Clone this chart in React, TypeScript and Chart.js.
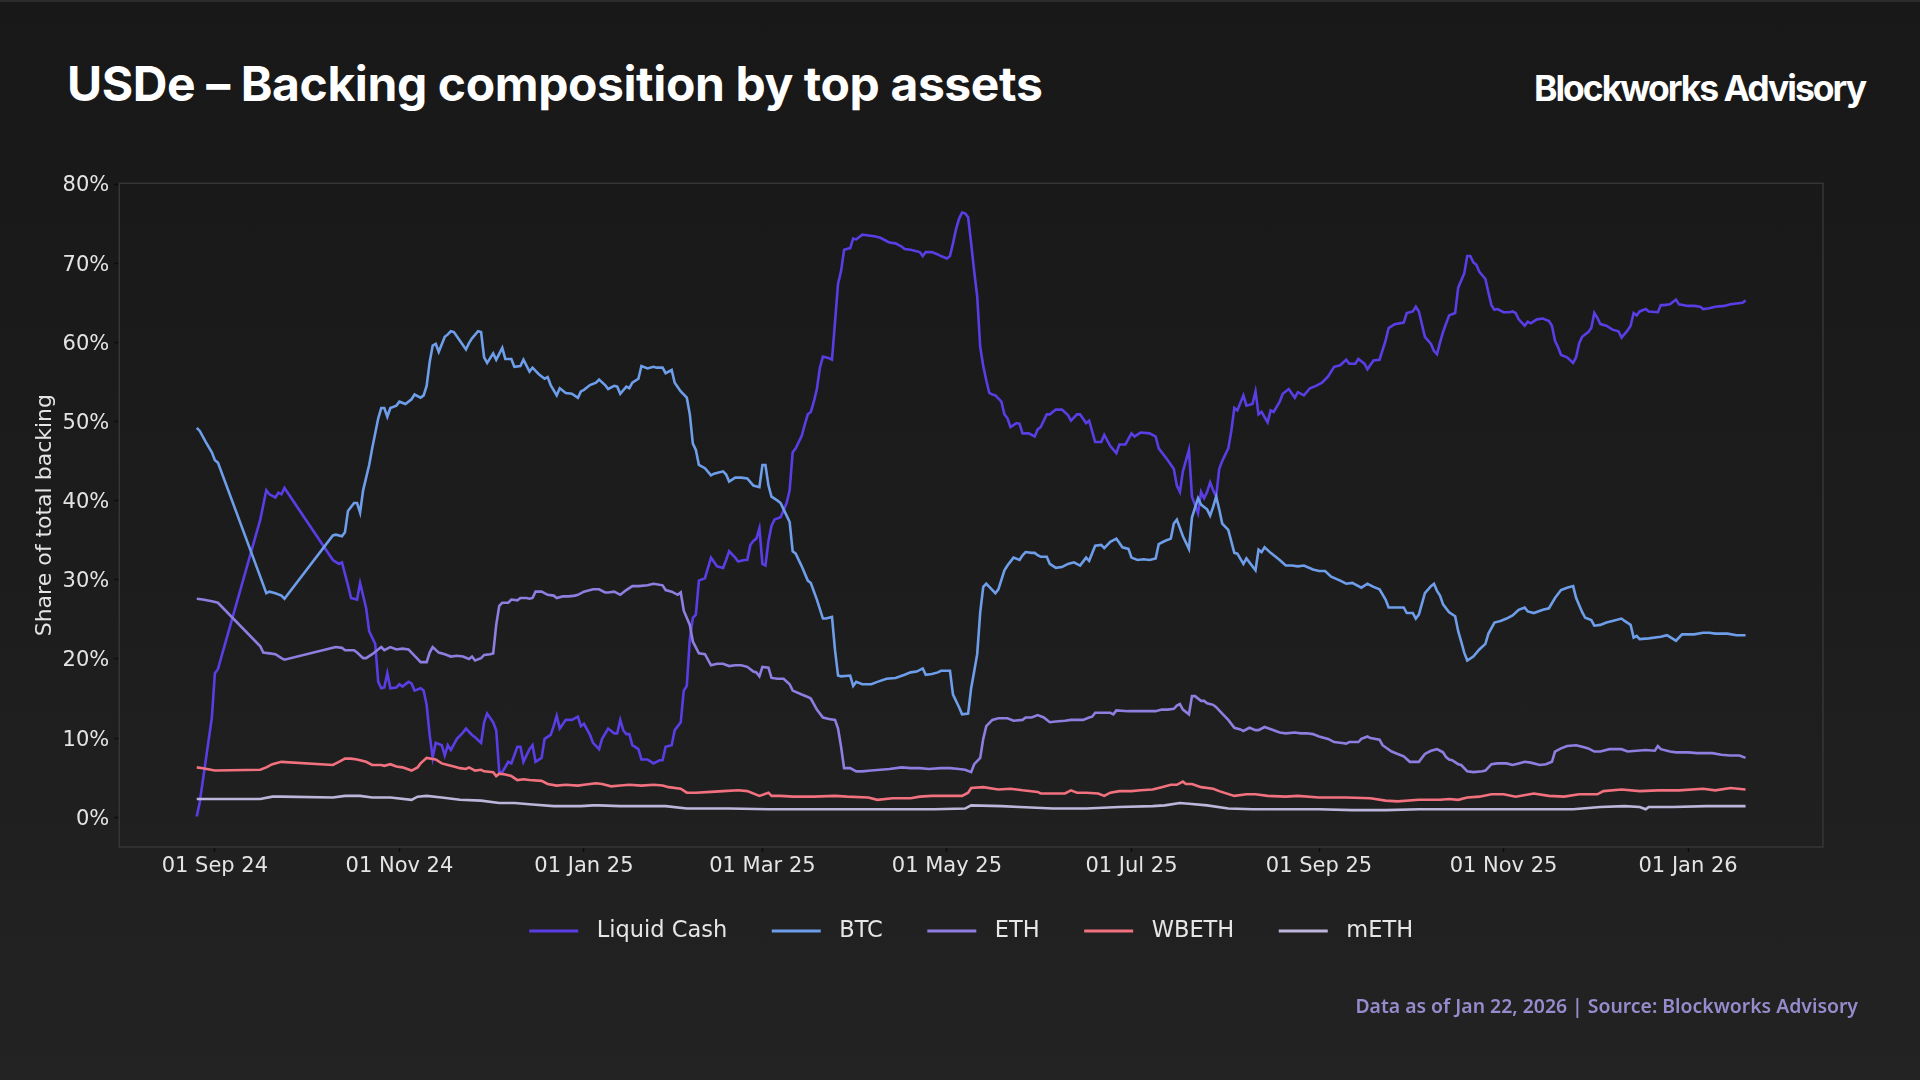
import React, { useEffect, useRef } from 'react';
import { Chart, registerables } from 'chart.js';

Chart.register(...registerables);

// x values are days since 2024-09-01; y values are % of total backing
const liquidCash: [number, number][] = [[-6,0.1],[-5,1.9],[-1,12.6],[0,18.2],[1,18.7],[15,37.6],[17,41.3],[18,40.8],[20,40.4],[21,41.0],[22,40.8],[23,41.6],[39,32.5],[41,32.0],[42,32.2],[44,29.3],[45,27.7],[47,27.5],[48,29.6],[50,26.4],[51,23.5],[53,21.9],[54,17.1],[55,16.3],[56,16.4],[57,18.2],[58,16.3],[60,16.4],[61,16.8],[62,16.5],[64,17.1],[65,16.9],[66,16.0],[68,16.3],[69,16.0],[70,14.2],[71,10.4],[72,7.5],[73,9.4],[75,9.1],[76,7.8],[77,9.1],[78,8.5],[80,9.9],[82,10.7],[83,11.2],[85,10.4],[86,10.1],[88,9.4],[89,12.0],[90,13.1],[92,12.0],[93,11.0],[94,5.7],[95,5.7],[97,7.0],[98,6.8],[100,8.9],[101,8.9],[102,7.0],[104,8.6],[105,9.1],[106,7.0],[108,7.5],[109,9.9],[111,10.4],[112,11.5],[113,12.8],[114,11.2],[116,12.3],[118,12.3],[120,12.7],[121,11.5],[122,11.8],[124,10.4],[125,9.4],[127,8.6],[128,9.9],[130,11.2],[132,10.6],[133,10.6],[134,12.3],[135,11.0],[136,10.5],[137,10.5],[138,9.1],[140,8.6],[141,7.3],[143,7.3],[145,6.8],[147,7.2],[148,7.2],[149,8.9],[151,9.1],[152,11.0],[154,12.0],[155,16.0],[156,16.6],[157,22.5],[158,25.2],[159,25.6],[160,29.9],[162,30.2],[163,31.5],[164,32.8],[166,31.7],[168,31.5],[169,32.5],[170,33.6],[172,32.8],[173,32.3],[175,32.5],[176,32.5],[177,34.4],[178,34.9],[179,35.2],[180,36.5],[181,32.0],[182,31.8],[183,34.9],[184,36.8],[185,37.6],[187,37.9],[189,39.7],[190,41.3],[191,46.1],[192,46.6],[194,48.2],[195,49.6],[196,50.9],[197,51.2],[198,52.5],[199,54.1],[200,56.8],[201,58.2],[203,58.0],[204,57.8],[205,62.6],[206,67.4],[207,69.0],[208,71.7],[210,71.9],[211,73.1],[212,73.0],[214,73.6],[216,73.5],[218,73.4],[220,73.2],[222,72.8],[223,72.6],[225,72.5],[227,72.1],[228,71.8],[230,71.7],[233,71.4],[234,70.9],[235,71.4],[237,71.4],[239,71.1],[240,70.9],[242,70.6],[243,70.9],[244,72.5],[245,74.3],[246,75.6],[247,76.4],[248,76.3],[249,75.8],[250,72.5],[251,69.0],[252,65.8],[253,59.4],[254,57.0],[255,55.2],[256,53.6],[257,53.4],[258,53.3],[260,52.5],[261,50.9],[262,50.4],[263,49.3],[265,49.8],[266,49.7],[267,48.5],[269,48.5],[271,48.1],[272,49.0],[273,49.3],[275,50.9],[276,50.9],[278,51.5],[280,51.5],[282,50.8],[283,50.1],[285,50.9],[286,50.9],[288,49.8],[289,50.1],[291,47.4],[293,47.4],[294,48.3],[296,46.9],[298,46.0],[299,47.1],[301,47.1],[303,48.5],[304,48.1],[306,48.6],[309,48.5],[311,48.1],[312,46.6],[314,45.6],[315,45.1],[317,44.0],[318,41.9],[319,41.1],[320,43.7],[322,46.4],[323,40.5],[325,38.4],[326,41.1],[327,40.3],[328,41.1],[329,42.3],[330,41.3],[331,40.5],[332,44.0],[333,45.0],[335,46.6],[336,48.8],[337,51.7],[338,51.4],[340,53.3],[341,52.0],[343,52.2],[344,53.8],[345,50.9],[346,51.2],[348,49.9],[349,51.4],[350,51.2],[352,52.5],[353,53.5],[355,54.1],[357,53.0],[358,53.7],[360,53.3],[362,54.2],[364,54.5],[366,54.9],[368,55.7],[370,56.9],[372,57.1],[374,57.8],[375,57.3],[377,57.3],[378,57.9],[380,57.3],[381,56.6],[383,57.7],[385,57.8],[387,60.2],[388,61.8],[390,62.3],[393,62.5],[394,63.7],[396,63.9],[397,64.5],[398,63.9],[400,60.7],[402,59.8],[403,58.9],[404,58.5],[405,60.0],[406,61.3],[408,63.4],[410,63.7],[411,66.9],[413,68.7],[414,70.9],[415,70.9],[416,70.1],[417,69.8],[418,68.9],[420,68.0],[421,66.3],[422,64.7],[423,64.1],[424,64.2],[426,63.8],[428,63.8],[429,63.9],[430,63.7],[431,62.9],[433,62.1],[434,62.6],[435,62.4],[437,62.9],[439,63.0],[441,62.7],[442,62.1],[443,60.2],[444,59.4],[445,58.4],[447,58.1],[449,57.4],[450,58.1],[451,59.9],[452,60.7],[454,61.3],[455,61.8],[456,63.7],[457,63.1],[458,62.3],[460,62.1],[462,61.6],[464,61.4],[465,60.6],[467,61.5],[468,62.1],[469,63.7],[470,63.4],[471,63.9],[473,64.2],[474,63.9],[477,63.8],[478,64.7],[479,64.7],[481,64.8],[483,65.4],[484,64.8],[487,64.6],[489,64.6],[491,64.5],[492,64.2],[494,64.3],[496,64.5],[499,64.6],[501,64.8],[503,64.9],[505,65.0],[506,65.3]];

const btc: [number, number][] = [[-6,49.2],[-5,48.8],[-3,47.4],[-1,46.1],[0,45.1],[1,44.8],[15,30.4],[17,28.3],[18,28.5],[20,28.3],[22,28.0],[23,27.6],[39,35.6],[40,35.7],[42,35.5],[43,36.0],[44,38.7],[46,39.7],[47,39.7],[48,38.5],[49,41.3],[51,44.5],[52,46.6],[54,50.4],[55,51.7],[56,51.7],[57,50.6],[58,51.7],[60,52.0],[61,52.5],[63,52.2],[65,52.8],[66,53.4],[68,53.0],[69,53.3],[70,54.5],[71,57.5],[72,59.6],[73,59.8],[74,58.8],[76,60.7],[77,61.0],[78,61.4],[79,61.3],[81,60.2],[83,59.1],[84,59.9],[85,60.5],[87,61.4],[88,61.3],[89,58.1],[90,57.4],[92,58.6],[93,57.8],[95,59.3],[96,57.9],[98,57.9],[99,56.9],[101,57.0],[102,57.8],[104,56.3],[105,56.8],[107,56.0],[109,55.4],[110,55.6],[111,54.6],[113,53.3],[114,54.2],[116,53.6],[118,53.5],[120,53.0],[121,53.8],[122,54.0],[124,54.6],[126,54.9],[127,55.3],[129,54.6],[130,54.1],[132,54.5],[133,54.4],[134,53.5],[136,54.4],[137,54.2],[138,54.9],[140,55.4],[141,57.0],[143,56.7],[145,56.9],[146,56.8],[148,56.8],[149,56.1],[151,56.5],[152,54.9],[154,53.8],[156,53.0],[157,50.9],[158,47.2],[159,46.4],[160,44.5],[162,44.1],[164,43.2],[165,43.4],[168,43.7],[169,43.3],[170,42.4],[172,42.9],[174,42.9],[176,42.8],[178,41.9],[180,41.7],[181,44.5],[182,44.5],[183,41.9],[184,40.5],[186,40.0],[187,39.7],[189,38.1],[190,37.3],[191,33.6],[192,33.3],[194,31.7],[196,29.9],[197,29.6],[199,27.5],[201,25.1],[202,25.1],[204,25.3],[205,21.1],[206,17.9],[207,17.8],[210,17.9],[211,16.6],[212,17.1],[214,16.8],[217,16.8],[219,17.1],[222,17.5],[225,17.6],[228,18.0],[230,18.3],[232,18.4],[234,18.8],[235,18.0],[237,18.1],[239,18.3],[240,18.5],[243,18.5],[244,15.5],[246,13.9],[247,13.0],[249,13.1],[250,16.3],[251,18.4],[252,20.6],[253,25.9],[254,29.1],[255,29.5],[256,29.1],[258,28.3],[259,28.8],[261,31.2],[262,31.8],[264,32.8],[266,32.5],[267,33.1],[268,33.5],[270,33.4],[271,33.4],[272,33.1],[273,32.9],[275,32.9],[276,32.0],[278,31.5],[280,31.6],[282,32.0],[284,32.2],[286,31.8],[288,32.8],[289,32.4],[291,34.3],[293,34.4],[294,34.0],[296,34.8],[298,35.2],[300,34.1],[302,33.9],[303,32.8],[305,32.5],[307,32.6],[309,32.5],[311,32.7],[312,34.5],[314,34.9],[316,35.2],[317,37.1],[318,37.6],[320,35.5],[322,33.9],[323,37.9],[325,40.3],[326,39.5],[327,39.2],[328,38.9],[329,38.1],[330,39.2],[331,40.5],[332,38.9],[333,37.1],[335,36.3],[337,33.4],[338,33.3],[340,32.0],[341,32.7],[342,32.2],[344,31.2],[345,33.8],[346,33.5],[347,34.1],[349,33.4],[352,32.5],[354,31.8],[356,31.8],[358,31.7],[360,31.8],[363,31.3],[365,31.1],[367,31.1],[369,30.4],[372,29.9],[374,29.5],[376,29.6],[379,29.0],[381,29.5],[383,29.1],[385,28.8],[387,27.5],[388,26.5],[390,26.5],[393,26.5],[394,25.8],[396,25.8],[397,25.1],[398,25.6],[400,28.3],[402,29.2],[403,29.5],[404,28.6],[405,28.0],[406,26.9],[408,25.9],[410,25.4],[411,23.5],[412,22.2],[413,20.8],[414,19.8],[416,20.3],[418,21.2],[420,21.9],[421,23.2],[423,24.6],[425,24.8],[427,25.1],[429,25.5],[431,26.2],[433,26.5],[434,26.0],[436,25.8],[439,26.2],[441,26.4],[443,27.7],[445,28.7],[447,29.0],[449,29.2],[450,27.7],[452,25.9],[453,25.2],[455,24.9],[456,24.2],[458,24.3],[460,24.6],[462,24.8],[465,25.1],[466,24.8],[468,24.3],[469,22.7],[470,22.9],[471,22.5],[474,22.6],[478,22.8],[480,23.0],[483,22.3],[485,23.1],[489,23.1],[492,23.3],[494,23.3],[496,23.2],[500,23.2],[503,23.0],[506,23.0]];

const eth: [number, number][] = [[-6,27.6],[-4,27.5],[-1,27.3],[1,27.1],[15,21.6],[16,20.8],[18,20.7],[20,20.6],[22,20.1],[23,19.9],[39,21.4],[40,21.5],[42,21.4],[43,21.1],[46,21.1],[47,20.8],[49,20.1],[50,20.1],[52,20.6],[55,21.5],[56,21.1],[58,21.5],[60,21.2],[62,21.3],[64,21.2],[65,20.8],[67,20.0],[68,19.6],[70,19.6],[71,20.8],[72,21.5],[74,20.8],[76,20.6],[78,20.3],[80,20.4],[82,20.3],[84,20.0],[85,20.3],[86,19.8],[88,20.1],[89,20.5],[91,20.6],[92,20.7],[93,24.3],[94,26.7],[95,27.1],[97,27.1],[98,27.5],[100,27.4],[101,27.7],[103,27.7],[104,27.6],[105,27.7],[106,28.5],[108,28.5],[110,28.1],[112,28.0],[113,27.7],[115,27.9],[117,27.9],[119,28.0],[120,28.1],[122,28.5],[125,28.8],[127,28.8],[129,28.4],[130,28.4],[132,28.5],[134,28.1],[136,28.7],[138,29.2],[140,29.2],[143,29.3],[145,29.5],[148,29.3],[149,28.7],[151,28.5],[153,28.1],[154,28.4],[155,26.1],[157,24.3],[158,22.2],[160,20.7],[162,20.6],[164,19.2],[166,19.4],[168,19.4],[170,19.1],[172,19.2],[174,19.2],[176,19.0],[178,18.4],[179,18.3],[180,17.8],[181,19.0],[183,18.9],[184,17.6],[186,17.5],[188,17.5],[190,16.8],[191,16.0],[194,15.5],[196,15.2],[197,15.0],[199,13.6],[201,12.6],[203,12.4],[205,12.3],[206,11.2],[207,8.9],[208,6.2],[210,6.2],[212,5.8],[214,5.8],[217,5.9],[220,6.0],[223,6.1],[227,6.3],[230,6.2],[233,6.2],[236,6.1],[240,6.2],[243,6.2],[246,6.1],[248,6.0],[250,5.7],[251,6.7],[253,7.5],[254,9.9],[255,11.5],[257,12.3],[259,12.5],[262,12.5],[264,12.2],[267,12.3],[268,12.6],[270,12.6],[272,12.9],[274,12.6],[276,12.0],[278,12.1],[281,12.2],[283,12.3],[285,12.3],[287,12.3],[289,12.6],[290,12.7],[291,13.2],[294,13.2],[296,13.2],[297,13.0],[298,13.5],[302,13.4],[305,13.4],[308,13.4],[311,13.4],[313,13.6],[315,13.6],[317,13.7],[318,14.1],[319,14.3],[320,13.6],[322,13.0],[323,15.3],[324,15.3],[326,14.7],[327,14.7],[328,14.4],[330,14.2],[331,13.9],[333,13.1],[335,12.3],[337,11.3],[339,11.1],[340,10.9],[342,11.3],[344,11.0],[345,11.0],[347,11.4],[350,11.0],[352,10.7],[354,10.6],[357,10.7],[359,10.6],[361,10.6],[363,10.5],[365,10.2],[368,9.9],[370,9.5],[372,9.4],[374,9.3],[375,9.5],[378,9.5],[379,9.9],[381,10.2],[382,10.0],[385,9.8],[386,9.1],[389,8.3],[391,8.0],[393,7.7],[395,7.0],[398,7.0],[400,8.0],[402,8.4],[404,8.6],[405,8.4],[406,8.2],[407,7.6],[408,7.3],[409,7.2],[411,6.7],[412,6.6],[414,5.8],[416,5.7],[419,5.8],[420,5.9],[422,6.7],[424,6.8],[427,6.8],[429,6.6],[431,6.8],[433,7.0],[435,6.9],[438,6.6],[440,6.7],[442,7.0],[443,8.3],[445,8.7],[447,9.0],[450,9.1],[452,8.9],[454,8.7],[456,8.3],[458,8.3],[461,8.6],[463,8.6],[465,8.6],[467,8.3],[470,8.4],[473,8.5],[476,8.4],[477,9.0],[478,8.6],[481,8.3],[483,8.2],[487,8.2],[490,8.1],[495,8.1],[498,7.9],[501,7.8],[504,7.8],[506,7.5]];

const wbeth: [number, number][] = [[-6,6.3],[-4,6.2],[0,5.9],[15,6.0],[17,6.3],[19,6.7],[22,7.0],[39,6.6],[41,7.0],[43,7.4],[45,7.4],[47,7.3],[50,7.0],[52,6.6],[55,6.6],[56,6.5],[58,6.7],[60,6.4],[62,6.3],[65,5.9],[67,6.3],[68,6.8],[70,7.5],[73,7.3],[75,6.8],[77,6.6],[79,6.4],[81,6.2],[83,6.1],[84,6.3],[86,5.9],[88,6.0],[89,5.8],[92,5.7],[93,5.2],[94,5.5],[96,5.4],[98,5.2],[100,4.7],[102,4.8],[104,4.7],[108,4.6],[110,4.2],[113,4.0],[116,4.1],[120,4.0],[122,4.1],[126,4.3],[128,4.2],[131,3.9],[134,4.0],[137,4.1],[141,4.0],[145,4.1],[148,4.0],[150,3.8],[154,3.6],[156,3.1],[159,3.1],[164,3.2],[168,3.3],[173,3.4],[176,3.3],[180,2.7],[183,3.1],[184,2.7],[187,2.7],[191,2.6],[198,2.6],[205,2.7],[209,2.6],[216,2.5],[219,2.2],[224,2.4],[230,2.4],[233,2.6],[237,2.7],[242,2.7],[247,2.7],[249,3.1],[250,3.7],[254,3.8],[259,3.5],[263,3.6],[267,3.4],[272,3.2],[273,3.0],[277,3.0],[281,3.0],[283,3.4],[285,3.1],[288,3.1],[292,3.0],[294,2.7],[296,3.1],[299,3.3],[303,3.3],[306,3.4],[310,3.5],[313,3.8],[316,4.1],[318,4.1],[320,4.5],[321,4.2],[323,4.2],[326,3.8],[330,3.6],[332,3.3],[337,2.7],[341,2.9],[344,2.9],[348,2.7],[354,2.6],[358,2.7],[365,2.5],[374,2.5],[382,2.4],[387,2.1],[391,2.0],[398,2.2],[405,2.2],[408,2.3],[411,2.2],[414,2.5],[418,2.6],[422,2.9],[426,2.9],[430,2.6],[436,3.0],[441,2.7],[446,2.6],[451,2.9],[457,2.9],[459,3.3],[465,3.5],[471,3.3],[477,3.4],[484,3.4],[492,3.6],[496,3.4],[501,3.7],[506,3.5]];

const meth: [number, number][] = [[-6,2.3],[0,2.3],[15,2.3],[19,2.6],[22,2.6],[39,2.5],[43,2.7],[48,2.7],[52,2.5],[58,2.5],[65,2.2],[67,2.6],[70,2.7],[75,2.5],[81,2.2],[88,2.1],[94,1.8],[99,1.8],[105,1.6],[112,1.4],[121,1.4],[125,1.5],[127,1.5],[134,1.4],[149,1.4],[156,1.1],[170,1.1],[183,1.0],[199,1.0],[216,1.0],[238,1.0],[248,1.1],[250,1.5],[260,1.4],[266,1.3],[277,1.1],[288,1.1],[299,1.3],[310,1.4],[314,1.5],[319,1.8],[322,1.7],[328,1.5],[335,1.1],[343,1.0],[354,1.0],[365,1.0],[376,0.9],[387,0.9],[398,1.0],[412,1.0],[427,1.0],[449,1.0],[458,1.3],[466,1.4],[471,1.3],[473,1.0],[474,1.3],[482,1.3],[493,1.4],[500,1.4],[506,1.4]];

const seriesLabels = ['Liquid Cash', 'BTC', 'ETH', 'WBETH', 'mETH'];
const seriesColors = ['#5b3de6', '#6e9de9', '#8f7de0', '#f2717f', '#bdb6da'];
const seriesData = [liquidCash, btc, eth, wbeth, meth];

const xTickDates = ['2024-09-01', '2024-11-01', '2025-01-01', '2025-03-01', '2025-05-01', '2025-07-01', '2025-09-01', '2025-11-01', '2026-01-01'];
const xTickLabels = ['01 Sep 24', '01 Nov 24', '01 Jan 25', '01 Mar 25', '01 May 25', '01 Jul 25', '01 Sep 25', '01 Nov 25', '01 Jan 26'];
const yTicks = [0, 10, 20, 30, 40, 50, 60, 70, 80];

const DAY0 = Date.parse('2024-09-01T00:00:00Z');
const toDay = (iso: string) => Math.round((Date.parse(iso + 'T00:00:00Z') - DAY0) / 86400000);

const frameBox = {
  id: 'frameBox',
  beforeDatasetsDraw(chart: any) {
    const { ctx, chartArea: a } = chart;
    ctx.save();
    ctx.strokeStyle = '#363636';
    ctx.lineWidth = 1.5;
    ctx.strokeRect(a.left, a.top, a.right - a.left, a.bottom - a.top);
    ctx.restore();
  },
};

const customLegend = {
  id: 'customLegend',
  afterDraw(chart: any) {
    const { ctx, chartArea: a } = chart;
    const lineLen = 49;
    const gapText = 18.5;
    const gapItem = 44.5;
    const y = 931;
    ctx.save();
    ctx.font = '22.5px "DejaVu Sans"';
    const items = chart.data.datasets.map((d: any) => ({ label: d.label, color: d.borderColor, w: ctx.measureText(d.label).width }));
    const total = items.reduce((s: number, it: any) => s + lineLen + gapText + it.w, 0) + gapItem * (items.length - 1);
    let x = (a.left + a.right) / 2 - total / 2;
    items.forEach((it: any) => {
      ctx.strokeStyle = it.color;
      ctx.lineWidth = 3;
      ctx.beginPath();
      ctx.moveTo(x, y);
      ctx.lineTo(x + lineLen, y);
      ctx.stroke();
      ctx.fillStyle = '#e6e6e6';
      ctx.textBaseline = 'middle';
      ctx.textAlign = 'left';
      ctx.fillText(it.label, x + lineLen + gapText, y);
      x += lineLen + gapText + it.w + gapItem;
    });
    ctx.restore();
  },
};

export default function App() {
  const ref = useRef<HTMLCanvasElement | null>(null);

  useEffect(() => {
    if (!ref.current) return;
    const tickDays = xTickDates.map(toDay);
    const chart = new Chart(ref.current, {
      type: 'line',
      data: {
        datasets: seriesLabels.map((label, i) => ({
          label,
          data: seriesData[i].map(([x, y]) => ({ x, y })),
          borderColor: seriesColors[i],
          backgroundColor: seriesColors[i],
          borderWidth: 2.6,
          pointRadius: 0,
          tension: 0,
          fill: false,
          order: seriesLabels.length - i,
        })),
      },
      options: {
        responsive: false,
        animation: false,
        devicePixelRatio: 1,
        layout: { padding: { left: 28, top: 183.3, right: 97, bottom: 0 } },
        plugins: {
          legend: { display: false },
          tooltip: { enabled: false },
        },
        scales: {
          x: {
            type: 'linear',
            min: -31.6,
            max: 531.6,
            border: { display: false },
            grid: { drawOnChartArea: false, drawTicks: true, tickLength: 5, tickColor: '#0c0c0c', tickWidth: 1.5 },
            ticks: {
              color: '#e4e4e4',
              font: { family: 'DejaVu Sans', size: 21 },
              padding: 1.5,
              maxRotation: 0,
              autoSkip: false,
              callback: (v: any) => {
                const idx = tickDays.indexOf(Number(v));
                return idx >= 0 ? xTickLabels[idx] : '';
              },
            },
            afterBuildTicks: (scale: any) => {
              scale.ticks = tickDays.map((v) => ({ value: v }));
            },
            afterFit: (scale: any) => {
              scale.height = 1080 - 847;
            },
          },
          y: {
            type: 'linear',
            min: -3.76,
            max: 80.09,
            border: { display: false },
            grid: { drawOnChartArea: false, drawTicks: true, tickLength: 5, tickColor: '#0c0c0c', tickWidth: 1.5 },
            ticks: {
              color: '#e4e4e4',
              font: { family: 'DejaVu Sans', size: 21 },
              padding: 5,
              labelOffset: 2,
              callback: (v: any) => `${v}%`,
            },
            afterBuildTicks: (scale: any) => {
              scale.ticks = yTicks.map((v) => ({ value: v }));
            },
            afterFit: (scale: any) => {
              scale.width = 119.3 - 28;
            },
            title: {
              display: true,
              text: 'Share of total backing',
              color: '#e4e4e4',
              font: { family: 'DejaVu Sans', size: 22 },
              padding: { top: 4, bottom: 4 },
            },
          },
        },
      },
      plugins: [frameBox, customLegend],
    });
    return () => chart.destroy();
  }, []);

  return (
    <div
      style={{
        position: 'fixed',
        left: 0,
        top: 0,
        width: 1920,
        height: 1080,
        overflow: 'hidden',
        background: 'linear-gradient(180deg, #181818 0%, #1c1c1c 50%, #232323 100%)',
        boxShadow: 'inset 0 2px 0 #2c2c2c',
      }}
    >
      <div
        style={{
          position: 'absolute',
          left: 67,
          top: 60,
          fontFamily: 'Inter, sans-serif',
          fontWeight: 700,
          fontSize: 48,
          lineHeight: '48px',
          letterSpacing: '-0.4px',
          color: '#ffffff',
          whiteSpace: 'nowrap',
        }}
      >
        USDe – Backing composition by top assets
      </div>
      <div
        style={{
          position: 'absolute',
          right: 1920 - 1865,
          top: 71,
          fontFamily: 'Inter, sans-serif',
          fontWeight: 700,
          fontSize: 35.5,
          lineHeight: '35.5px',
          letterSpacing: '-2px',
          color: '#ffffff',
          whiteSpace: 'nowrap',
        }}
      >
        Blockworks Advisory
      </div>
      <canvas ref={ref} width={1920} height={1080} style={{ position: 'absolute', left: 0, top: 0, width: 1920, height: 1080 }} />
      <div
        style={{
          position: 'absolute',
          right: 1920 - 1858,
          top: 994,
          fontFamily: '"Noto Sans", sans-serif',
          fontWeight: 600,
          fontSize: 19.4,
          lineHeight: '24px',
          color: '#968bcc',
          whiteSpace: 'nowrap',
        }}
      >
        Data as of Jan 22, 2026 | Source: Blockworks Advisory
      </div>
    </div>
  );
}
